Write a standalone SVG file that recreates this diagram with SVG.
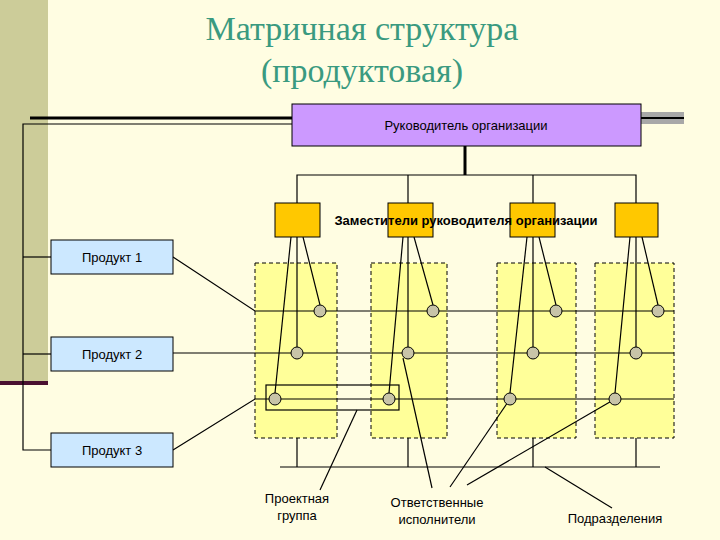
<svg xmlns="http://www.w3.org/2000/svg" width="720" height="540" viewBox="0 0 720 540">
<style>
.t{font-family:"Liberation Sans",Arial,sans-serif;font-size:13px;fill:#000;text-anchor:middle}
.l{stroke:#000;stroke-width:1.2;fill:none}
.col{fill:#FFFF99;stroke:#000;stroke-dasharray:4,3}
.dep{fill:#FFC800;stroke:#000}
.prod{fill:#CCE8FF;stroke:#000}
.c{fill:#C8C4A8;stroke:#000}
</style>
<rect width="720" height="540" fill="#FFFDE2"/>
<rect x="0" y="0" width="48" height="383" fill="#CCCC99"/>
<rect x="0" y="381" width="48" height="4" fill="#4A1030"/>
<text x="362" y="40" font-family="Liberation Serif,serif" font-size="34" fill="#3A9A80" text-anchor="middle">Матричная структура</text>
<text x="362" y="82" font-family="Liberation Serif,serif" font-size="34" fill="#3A9A80" text-anchor="middle">(продуктовая)</text>
<rect x="641" y="112" width="43" height="12" fill="#A8A8A8"/>
<g id="connectors">
<line x1="30" y1="118" x2="292" y2="118" stroke="#000" stroke-width="3"/>
<line x1="641" y1="118" x2="684" y2="118" stroke="#000" stroke-width="2"/>
<polyline class="l" points="292,124 23,124 23,450 51,450"/>
<line class="l" x1="23" y1="257" x2="51" y2="257"/>
<line class="l" x1="23" y1="354" x2="51" y2="354"/>
<line x1="465" y1="146" x2="465" y2="175" stroke="#000" stroke-width="3"/>
<polyline class="l" points="297,203 297,175 636,175 636,203"/>
<line class="l" x1="408" y1="175" x2="408" y2="203"/>
<line class="l" x1="533" y1="175" x2="533" y2="203"/>
</g>
<g id="columns">
<rect class="col" x="255" y="263" width="82" height="175"/>
<rect class="col" x="371" y="263" width="76" height="175"/>
<rect class="col" x="497" y="263" width="79" height="175"/>
<rect class="col" x="595" y="263" width="79" height="175"/>
</g>
<g id="grid">
<polyline class="l" points="173,257 255,311 674,311"/>
<line class="l" x1="173" y1="353" x2="674" y2="353"/>
<polyline class="l" points="173,450 255,399 674,399"/>
<line class="l" x1="291" y1="237" x2="275" y2="393"/>
<line class="l" x1="297" y1="237" x2="297" y2="347"/>
<line class="l" x1="303" y1="237" x2="320" y2="305"/>
<line class="l" x1="403" y1="237" x2="389" y2="393"/>
<line class="l" x1="408" y1="237" x2="408" y2="347"/>
<line class="l" x1="414" y1="237" x2="433" y2="305"/>
<line class="l" x1="527" y1="237" x2="510" y2="393"/>
<line class="l" x1="533" y1="237" x2="533" y2="347"/>
<line class="l" x1="539" y1="237" x2="556" y2="305"/>
<line class="l" x1="630" y1="237" x2="615" y2="393"/>
<line class="l" x1="636" y1="237" x2="636" y2="347"/>
<line class="l" x1="642" y1="237" x2="658" y2="305"/>
<rect class="l" x="266" y="385" width="133" height="25"/>
<line class="l" x1="297" y1="438" x2="297" y2="467"/>
<line class="l" x1="408" y1="438" x2="408" y2="467"/>
<line class="l" x1="533" y1="438" x2="533" y2="467"/>
<line class="l" x1="636" y1="438" x2="636" y2="467"/>
<line class="l" x1="280" y1="467" x2="660" y2="467"/>
<line class="l" x1="357" y1="410" x2="320" y2="490"/>
<line class="l" x1="403" y1="358" x2="432" y2="488"/>
<line class="l" x1="510" y1="399" x2="450" y2="487"/>
<line class="l" x1="615" y1="399" x2="467" y2="485"/>
<line class="l" x1="545" y1="467" x2="612" y2="508"/>
</g>
<g id="circles">
<circle class="c" cx="320" cy="311" r="6"/><circle class="c" cx="433" cy="311" r="6"/><circle class="c" cx="556" cy="311" r="6"/><circle class="c" cx="658" cy="311" r="6"/>
<circle class="c" cx="297" cy="353" r="6"/><circle class="c" cx="408" cy="353" r="6"/><circle class="c" cx="533" cy="353" r="6"/><circle class="c" cx="636" cy="353" r="6"/>
<circle class="c" cx="275" cy="399" r="6"/><circle class="c" cx="389" cy="399" r="6"/><circle class="c" cx="510" cy="399" r="6"/><circle class="c" cx="615" cy="399" r="6"/>
</g>
<g id="head">
<rect x="292" y="104" width="349" height="42" fill="#CC99FF" stroke="#000"/>
<text class="t" x="466" y="130">Руководитель  организации</text>
</g>
<g id="deputies">
<rect class="dep" x="275" y="203" width="45" height="34"/>
<rect class="dep" x="388" y="203" width="45" height="34"/>
<rect class="dep" x="510" y="203" width="45" height="34"/>
<rect class="dep" x="615" y="203" width="43" height="34"/>
<text class="t" x="466" y="225" font-weight="bold">Заместители руководителя организации</text>
</g>
<g id="p1"><rect class="prod" x="51" y="240" width="122" height="34"/><text class="t" x="112" y="262">Продукт  1</text></g>
<g id="p2"><rect class="prod" x="51" y="337" width="122" height="34"/><text class="t" x="112" y="359">Продукт 2</text></g>
<g id="p3"><rect class="prod" x="51" y="433" width="122" height="34"/><text class="t" x="112" y="455">Продукт 3</text></g>
<g id="labels">
<text class="t" x="297" y="503">Проектная</text><text class="t" x="297" y="520">группа</text>
<text class="t" x="437" y="507">Ответственные</text><text class="t" x="437" y="524">исполнители</text>
<text class="t" x="615" y="523">Подразделения</text>
</g>
</svg>
